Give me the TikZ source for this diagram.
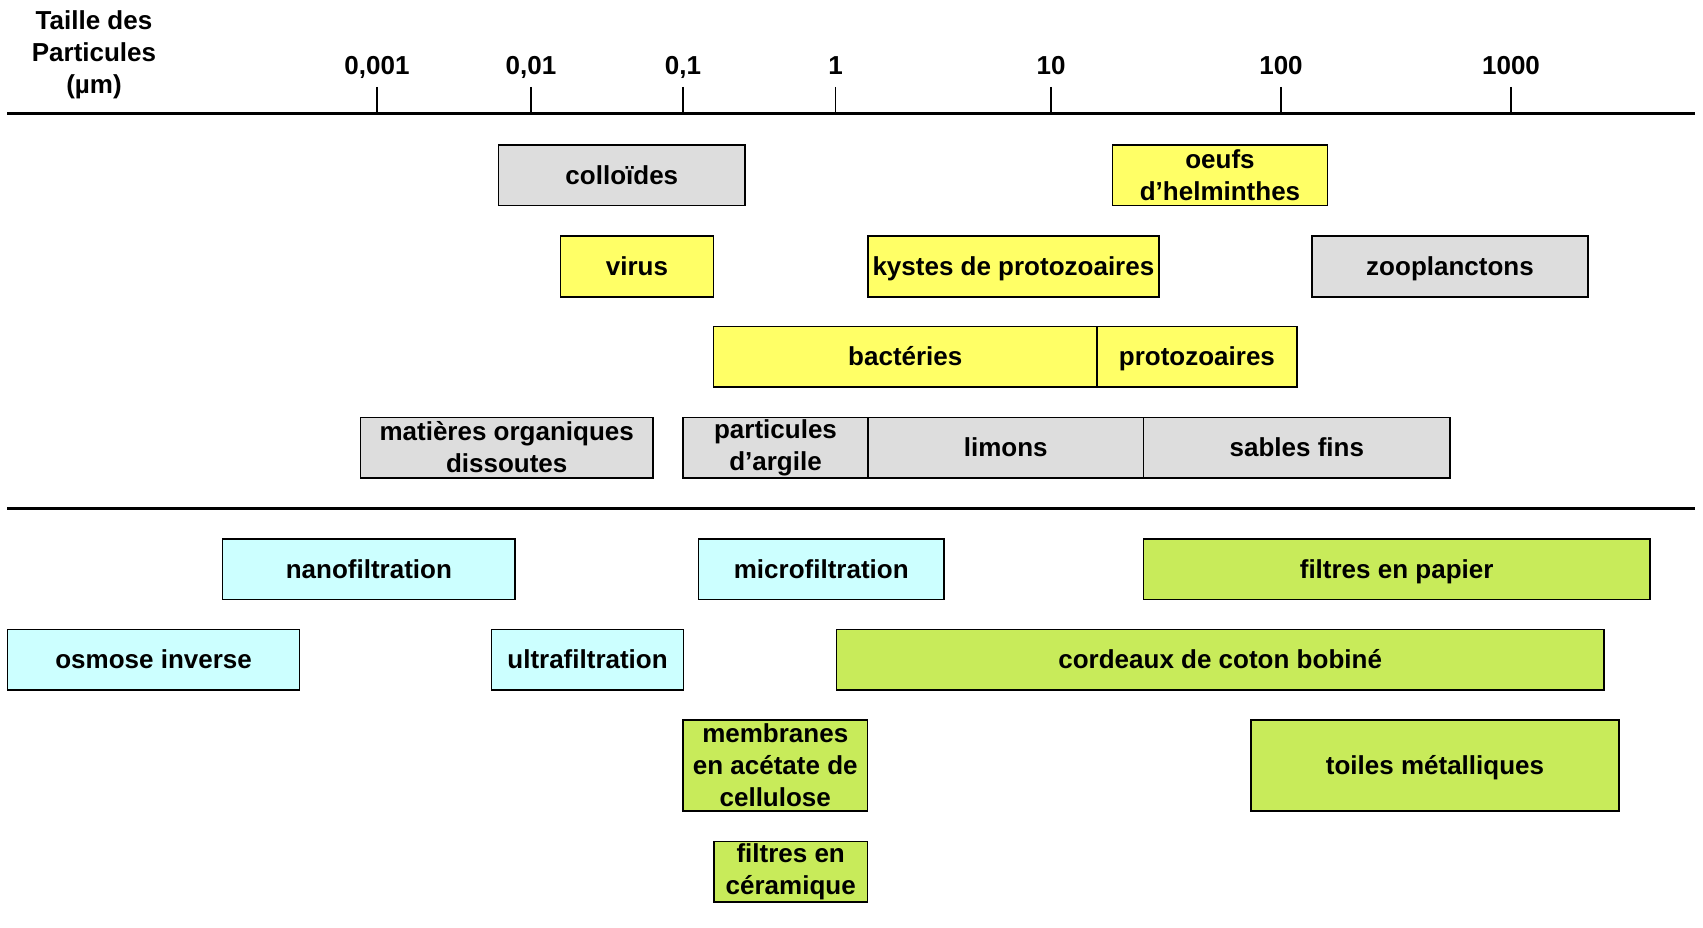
\documentclass[tikz,border=0pt]{standalone}
\usepackage{fontspec}
\setmainfont{Liberation Sans}
\usepackage{tikz}
\definecolor{BoxGray}{HTML}{DDDDDD}
\definecolor{BoxYellow}{HTML}{FFFF66}
\definecolor{BoxCyan}{HTML}{CCFFFF}
\definecolor{BoxGreen}{HTML}{C8EB5A}

\begin{document}
\begin{tikzpicture}[x=1pt,y=-1pt,
    every node/.style={font=\fontsize{26}{32}\selectfont\bfseries, align=center, inner sep=0pt},
    box/.style={draw=black, line width=1.5pt, minimum height=60.5pt},
    ligne/.style={text height=23.5pt, text depth=5.5pt},
    particule/.style={box, fill=BoxGray},
    microbe/.style={box, fill=BoxYellow},
    membrane/.style={box, fill=BoxCyan},
    filtre/.style={box, fill=BoxGreen}]
        \useasboundingbox (0,0) rectangle (1703,928);
        % Size scale
        \node (titre) at (94,55) {Taille des\\Particules\\(µm)};
        \draw[line width=3pt] (7,114) -- (1695,114);
        \foreach \x/\lab/\nom in {377/{0,001}/tA, 531/{0,01}/tB, 683/{0,1}/tC,
                                  835.6/1/tD, 1051/10/tE, 1281/100/tF, 1511/1000/tG} {
          \node[ligne] (\nom) at (\x,66) {\lab};
          \draw[line width=1.5pt] (\x,87) -- (\x,114);
        }
        % Particles
        \node[particule, ligne, minimum width=246.5pt] (colloides) at (621.8,175.5) {colloïdes};
        \node[microbe, minimum width=215pt] (oeufs) at (1220,175.5) {oeufs\\d’helminthes};
        \node[microbe, ligne, minimum width=153pt] (virus) at (637,266.5) {virus};
        \node[microbe, ligne, minimum width=291.2pt] (kystes) at (1013.4,266.5) {kystes de protozoaires};
        \node[particule, ligne, minimum width=276pt] (zoo) at (1450,266.5) {zooplanctons};
        \node[microbe, ligne, minimum width=383.4pt] (bacteries) at (905.3,356.5) {bactéries};
        \node[microbe, ligne, minimum width=199.8pt] (protozoaires) at (1196.9,356.5) {protozoaires};
        \node[particule, minimum width=292.1pt] (matieres) at (506.7,447.5) {matières organiques\\dissoutes};
        \node[particule, minimum width=184.6pt] (argile) at (775.5,447.5) {particules\\d’argile};
        \node[particule, ligne, minimum width=275.9pt] (limons) at (1005.75,447.5) {limons};
        \node[particule, ligne, minimum width=306.3pt] (sables) at (1296.85,447.5) {sables fins};
        % Separation
        \draw[line width=3pt] (7,508) -- (1695,508);
        % Filtration processes
        \node[membrane, ligne, minimum width=292.3pt] (nano) at (368.85,569) {nanofiltration};
        \node[membrane, ligne, minimum width=245.5pt] (micro) at (821.25,569) {microfiltration};
        \node[filtre, ligne, minimum width=506.7pt] (papier) at (1396.65,569) {filtres en papier};
        \node[membrane, ligne, minimum width=292.2pt] (osmose) at (153.6,659.5) {osmose inverse};
        \node[membrane, ligne, minimum width=192.3pt] (ultra) at (587.55,659.5) {ultrafiltration};
        \node[filtre, ligne, minimum width=767.7pt] (coton) at (1220.15,659.5) {cordeaux de coton bobiné};
        \node[filtre, minimum width=184.3pt, minimum height=91pt] (acetate) at (775.25,765.5) {membranes\\en acétate de\\cellulose};
        \node[filtre, ligne, minimum width=368pt, minimum height=91pt] (toiles) at (1435,765.5) {toiles métalliques};
        \node[filtre, minimum width=153.4pt] (ceramique) at (790.7,871.5) {filtres en\\céramique};
      \end{tikzpicture}
\end{document}
